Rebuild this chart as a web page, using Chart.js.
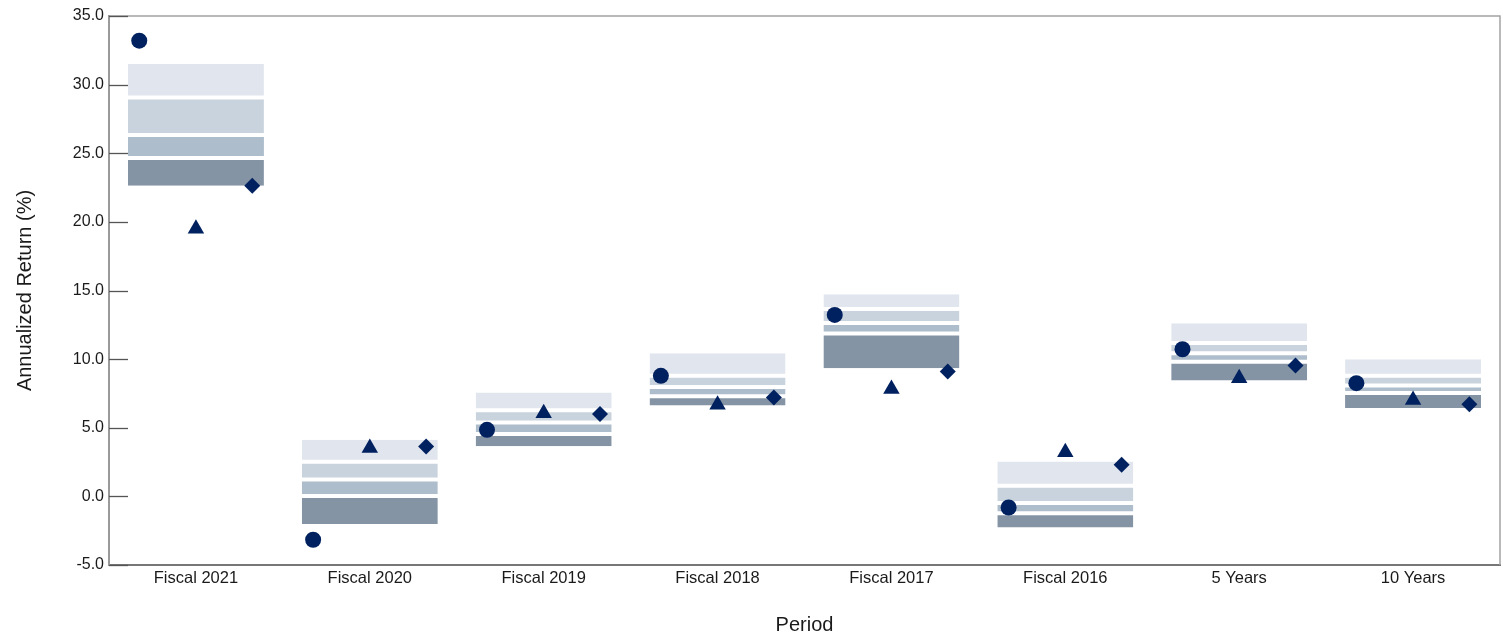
<!DOCTYPE html>
<html lang="en">
<head>
    <meta charset="UTF-8">
    <title>Annualized Return by Period</title>
    <script src="https://cdn.jsdelivr.net/npm/chart.js"></script>
    <style>
        * { margin: 0; padding: 0; box-sizing: border-box; }
        body { background: #ffffff; width: 1503px; height: 636px; overflow: hidden; }
        .chart-wrap { position: relative; width: 1503px; height: 636px; }
    </style>
</head>
<body>
    <div class="chart-wrap">
        <canvas id="returnChart" width="1503" height="636"></canvas>
    </div>

    <script>
        // Periods along the x axis
        const periods = ['Fiscal 2021', 'Fiscal 2020', 'Fiscal 2019', 'Fiscal 2018', 'Fiscal 2017', 'Fiscal 2016', '5 Years', '10 Years'];

        // Universe percentile boundaries (top of box down to bottom)
        const pct05 = [31.50, 4.12, 7.56, 10.43, 14.73, 2.54, 12.62, 10.00];
        const pct25 = [29.07, 2.53, 6.27, 8.79, 13.66, 0.78, 11.18, 8.78];
        const pct50 = [26.33, 1.23, 5.38, 7.96, 12.64, -0.48, 10.42, 8.07];
        const pct75 = [24.65, 0.03, 4.54, 7.29, 11.86, -1.23, 9.80, 7.54];
        const pct95 = [22.63, -2.02, 3.66, 6.62, 9.34, -2.27, 8.44, 6.43];

        // Marker series
        const circleValues = [33.20, -3.16, 4.85, 8.78, 13.22, -0.81, 10.72, 8.25];
        const triangleValues = [19.50, 3.52, 6.06, 6.67, 7.83, 3.22, 8.60, 7.03];
        const diamondValues = [22.64, 3.63, 6.01, 7.20, 9.09, 2.30, 9.53, 6.72];

        // Y axis ticks
        const yMin = -5;
        const yMax = 35;
        const yStep = 5;

        const bandColors = ['#e1e6ee', '#c9d3dd', '#aebdcb', '#8594a5'];
        const markerColor = '#00215f';
        const fontFamily = "'Liberation Sans', Arial, sans-serif";

        const bounds = [pct05, pct25, pct50, pct75, pct95];

        // Each band is a floating bar between two neighbouring percentiles
        const bandSets = bandColors.map((color, b) => ({
            type: 'bar',
            xAxisID: 'x',
            data: periods.map((p, i) => [bounds[b + 1][i], bounds[b][i]]),
            backgroundColor: color,
            borderColor: '#ffffff',
            borderWidth: {
                top: b === 0 ? 0 : 2,
                bottom: b === bandColors.length - 1 ? 0 : 2,
                left: 0,
                right: 0
            },
            borderSkipped: false,
            grouped: false,
            categoryPercentage: 1,
            barPercentage: 0.782,
            order: 2
        }));

        function markerSet(values, offset, style, radius) {
            return {
                type: 'scatter',
                xAxisID: 'xPts',
                data: values.map((v, i) => ({ x: i + offset, y: v })),
                pointStyle: style,
                pointRadius: radius,
                pointHoverRadius: radius,
                pointBackgroundColor: markerColor,
                pointBorderWidth: 0,
                showLine: false,
                order: 1
            };
        }

        // Draws the short tick marks inside the plot and the top/right frame
        const frameAndTicks = {
            id: 'frameAndTicks',
            afterDraw(chart) {
                const { ctx, chartArea: a, scales } = chart;
                const y = scales.y;
                ctx.save();
                ctx.strokeStyle = '#a3a3a3';
                ctx.lineWidth = 1.5;
                ctx.beginPath();
                ctx.moveTo(a.left, a.top);
                ctx.lineTo(a.right, a.top);
                ctx.lineTo(a.right, a.bottom);
                ctx.stroke();

                ctx.strokeStyle = '#555555';
                ctx.lineWidth = 1.3;
                y.ticks.forEach(t => {
                    const py = Math.round(y.getPixelForValue(t.value)) + 0.5;
                    ctx.beginPath();
                    ctx.moveTo(a.left, py);
                    ctx.lineTo(a.left + 19, py);
                    ctx.stroke();
                });
                ctx.restore();
            }
        };

        const ctx = document.getElementById('returnChart').getContext('2d');
        new Chart(ctx, {
            data: {
                labels: periods,
                datasets: [
                    markerSet(circleValues, -0.326, 'circle', 8),
                    markerSet(triangleValues, 0, 'triangle', 9.5),
                    markerSet(diamondValues, 0.324, 'rectRot', 8),
                    ...bandSets
                ]
            },
            options: {
                responsive: false,
                animation: false,
                layout: {
                    autoPadding: false,
                    padding: { top: 16, right: 3, left: 0, bottom: 0 }
                },
                plugins: {
                    legend: { display: false },
                    tooltip: { enabled: false }
                },
                scales: {
                    x: {
                        type: 'category',
                        offset: true,
                        grid: { display: false, drawTicks: false },
                        border: { display: true, color: '#777777', width: 2 },
                        ticks: {
                            padding: 4,
                            color: '#1a1a1a',
                            font: { family: fontFamily, size: 16.5 }
                        },
                        title: {
                            display: true,
                            text: 'Period',
                            color: '#1a1a1a',
                            font: { family: fontFamily, size: 20, lineHeight: 1 },
                            padding: { top: 0, bottom: 1 }
                        },
                        afterFit(scale) { scale.height = 71; }
                    },
                    // hidden axis used to place the markers inside each period
                    xPts: {
                        type: 'linear',
                        display: false,
                        min: -0.5,
                        max: 7.5
                    },
                    y: {
                        min: yMin,
                        max: yMax,
                        grid: { display: false, drawTicks: false },
                        border: { display: true, color: '#9a9a9a', width: 2 },
                        ticks: {
                            stepSize: yStep,
                            padding: 5,
                            color: '#1a1a1a',
                            font: { family: fontFamily, size: 16 },
                            callback: v => v.toFixed(1)
                        },
                        title: {
                            display: true,
                            text: 'Annualized Return (%)',
                            color: '#1a1a1a',
                            font: { family: fontFamily, size: 20 },
                            padding: { top: 13, bottom: 0 }
                        },
                        afterFit(scale) { scale.width = 109; }
                    }
                }
            },
            plugins: [frameAndTicks]
        });
    </script>
</body>
</html>
